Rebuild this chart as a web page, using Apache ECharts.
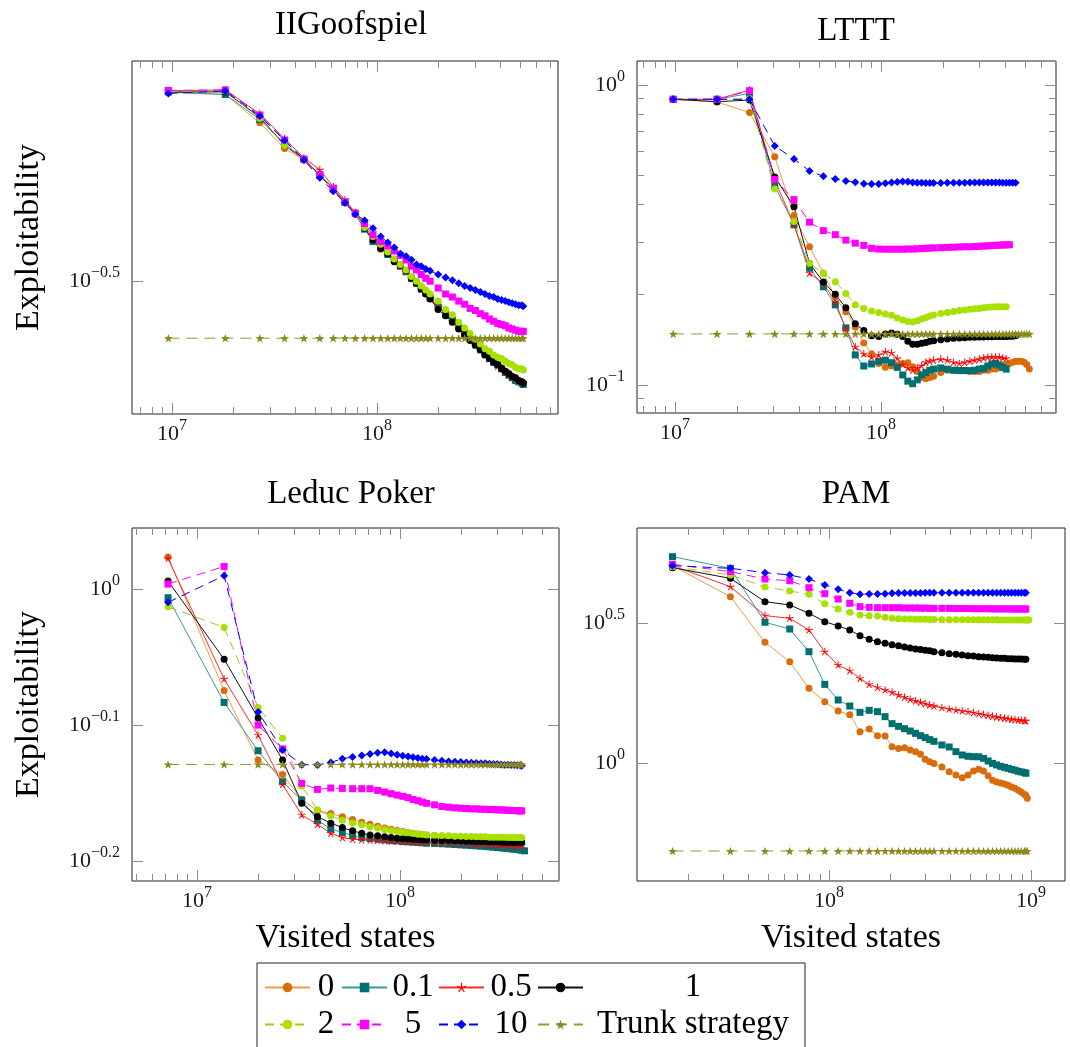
<!DOCTYPE html>
<html>
<head>
<meta charset="utf-8" />
<title>Exploitability vs visited states</title>
<script src="https://cdn.jsdelivr.net/npm/echarts@6.0.0/dist/echarts.min.js"></script>
<style>body{margin:0;background:#fff}#main{width:1070px;height:1047px}</style>
</head>
<body>
<div id="main"></div>
<script>
var FONT = 'Liberation Serif';

// ---- IIGoofspiel ----
var iigX = [9.6, 18.2, 26.8, 35.4, 44, 52.6, 61.2, 69.8, 78.4, 87, 95.6, 104.2, 112.8, 121.4, 130, 138.6, 147.2, 155.8, 164.4, 173, 181.6,
  198.8, 216, 233.2, 250.4, 267.6, 284.8, 302, 319.2, 336.4, 353.6, 370.8, 388, 405.2, 422.4, 439.6, 456.8, 474, 491.2, 508.4, 517];
var iig0 = [0.588, 0.584, 0.532, 0.489, 0.471, 0.448, 0.427, 0.410, 0.396, 0.378, 0.360, 0.351, 0.346, 0.339, 0.333, 0.327, 0.320, 0.315, 0.310, 0.305, 0.301,
  0.292, 0.286, 0.279, 0.273, 0.267, 0.262, 0.258, 0.253, 0.249, 0.246, 0.243, 0.240, 0.238, 0.235, 0.233, 0.231, 0.229, 0.228, 0.227, 0.226];
var iig01 = [0.589, 0.584, 0.538, 0.497, 0.472, 0.448, 0.429, 0.410, 0.395, 0.375, 0.360, 0.354, 0.345, 0.339, 0.332, 0.326, 0.319, 0.314, 0.308, 0.304, 0.299,
  0.290, 0.284, 0.278, 0.272, 0.266, 0.261, 0.257, 0.253, 0.249, 0.245, 0.242, 0.240, 0.237, 0.234, 0.232, 0.230, 0.228, 0.227, 0.226, 0.225];
var iig05 = [0.591, 0.593, 0.548, 0.505, 0.474, 0.456, 0.431, 0.413, 0.396, 0.380, 0.364, 0.354, 0.347, 0.339, 0.332, 0.326, 0.319, 0.314, 0.308, 0.304, 0.299,
  0.290, 0.284, 0.277, 0.271, 0.265, 0.261, 0.256, 0.252, 0.248, 0.245, 0.242, 0.239, 0.237, 0.234, 0.232, 0.231, 0.229, 0.228, 0.227, 0.226];
var iig1 = [0.589, 0.589, 0.542, 0.494, 0.472, 0.448, 0.427, 0.409, 0.394, 0.376, 0.362, 0.352, 0.346, 0.337, 0.333, 0.327, 0.319, 0.314, 0.308, 0.303, 0.298,
  0.288, 0.282, 0.276, 0.270, 0.265, 0.260, 0.256, 0.252, 0.248, 0.245, 0.242, 0.240, 0.237, 0.235, 0.233, 0.231, 0.230, 0.228, 0.227, 0.226];
var iig2 = [0.590, 0.591, 0.540, 0.494, 0.471, 0.448, 0.427, 0.410, 0.394, 0.377, 0.366, 0.357, 0.348, 0.340, 0.334, 0.328, 0.321, 0.316, 0.311, 0.307, 0.303,
  0.296, 0.288, 0.283, 0.276, 0.271, 0.266, 0.261, 0.257, 0.253, 0.251, 0.248, 0.246, 0.245, 0.243, 0.241, 0.240, 0.238, 0.237, 0.237, 0.236];
var iig5 = [0.592, 0.593, 0.546, 0.503, 0.472, 0.449, 0.429, 0.410, 0.395, 0.382, 0.368, 0.360, 0.355, 0.349, 0.344, 0.339, 0.332, 0.328, 0.323, 0.319, 0.316,
  0.309, 0.303, 0.300, 0.296, 0.293, 0.289, 0.287, 0.284, 0.282, 0.279, 0.277, 0.275, 0.274, 0.273, 0.271, 0.270, 0.269, 0.268, 0.268, 0.268];
var iig10 = [0.586, 0.591, 0.544, 0.502, 0.471, 0.444, 0.425, 0.409, 0.394, 0.386, 0.376, 0.366, 0.359, 0.353, 0.346, 0.343, 0.339, 0.334, 0.332, 0.329, 0.327,
  0.323, 0.320, 0.317, 0.314, 0.311, 0.309, 0.307, 0.305, 0.303, 0.301, 0.300, 0.298, 0.297, 0.296, 0.295, 0.294, 0.293, 0.292, 0.292, 0.291];
var iigTrunk = 0.262;

// ---- LTTT ----
var ltttX = [9.8, 16, 23, 30.5, 37.8, 45, 52.5, 60, 67.5, 75, 82.5, 90, 97.5, 105, 112.5, 120, 127.5, 135, 142.5, 150, 157.5, 165, 172.5, 180,
  195, 210, 225, 240, 255, 270, 285, 300, 315, 330, 345, 360, 375, 390, 405, 420, 435, 450, 465, 480, 495, 510, 525];
var lttt0 = [0.896, 0.878, 0.809, 0.577, 0.367, 0.289, 0.236, 0.196, 0.1755, 0.156, 0.138, 0.127, 0.118, 0.1145, 0.1157, 0.1166, 0.118, 0.1187, 0.115, 0.111, 0.106, 0.105, 0.106, 0.107,
  0.110, 0.112, 0.112, 0.112, 0.112, 0.111, 0.111, 0.111, 0.112, 0.112, 0.113, 0.113, 0.1145, 0.116, 0.117, 0.118, 0.119, 0.120, 0.120, 0.120, 0.119, 0.117, 0.113];
var lttt01 = [0.896, 0.896, 0.938, 0.461, 0.342, 0.245, 0.2125, 0.185, 0.155, 0.126, 0.1157, 0.1175, 0.120, 0.121, 0.1187, 0.1145, 0.108, 0.103, 0.101, 0.104, 0.108, 0.110, 0.112, 0.113,
  0.114, 0.113, 0.112, 0.1117, 0.1117, 0.1117, 0.112, 0.113, 0.1136, 0.1157, 0.1175, 0.118, 0.1166, 0.1145, 0.113];
var lttt05 = [0.896, 0.896, 0.962, 0.482, 0.343, 0.236, 0.218, 0.1896, 0.154, 0.134, 0.127, 0.1237, 0.126, 0.129, 0.128, 0.1226, 0.117, 0.114, 0.112, 0.114, 0.116, 0.119, 0.120, 0.121,
  0.122, 0.121, 0.119, 0.118, 0.119, 0.120, 0.121, 0.122, 0.123, 0.1237, 0.124, 0.124, 0.124, 0.123, 0.1226];
var lttt1 = [0.896, 0.880, 0.891, 0.494, 0.393, 0.254, 0.2205, 0.2005, 0.181, 0.160, 0.152, 0.146, 0.145, 0.148, 0.149, 0.1475, 0.145, 0.140, 0.1366, 0.1366, 0.1377, 0.1387, 0.1398, 0.1405,
  0.1416, 0.1423, 0.1431, 0.1435, 0.1438, 0.1442, 0.1442, 0.1445, 0.1445, 0.1449, 0.1449, 0.145, 0.145, 0.145, 0.145, 0.1455, 0.1455, 0.146];
var lttt2 = [0.896, 0.896, 0.900, 0.450, 0.351, 0.254, 0.236, 0.221, 0.202, 0.185, 0.180, 0.1765, 0.1746, 0.1724, 0.1708, 0.1672, 0.1647, 0.1627, 0.1623, 0.1639, 0.1661, 0.1678, 0.1698, 0.1712,
  0.173, 0.1743, 0.1757, 0.177, 0.1778, 0.1787, 0.1796, 0.180, 0.181, 0.1815, 0.182, 0.1824, 0.1824, 0.1824, 0.1824];
var lttt5 = [0.896, 0.896, 0.957, 0.485, 0.415, 0.349, 0.327, 0.317, 0.304, 0.297, 0.292, 0.2855, 0.284, 0.2835, 0.2835, 0.2835, 0.2835, 0.284, 0.284, 0.2845, 0.285, 0.2855, 0.286, 0.2865,
  0.287, 0.2875, 0.288, 0.2885, 0.289, 0.289, 0.2895, 0.290, 0.2905, 0.291, 0.2915, 0.292, 0.2925, 0.293, 0.293, 0.2935];
var lttt10 = [0.896, 0.896, 0.896, 0.626, 0.567, 0.517, 0.496, 0.486, 0.479, 0.474, 0.469, 0.468, 0.468, 0.470, 0.473, 0.475, 0.477, 0.476, 0.473, 0.472, 0.472, 0.471, 0.471, 0.471,
  0.471, 0.472, 0.472, 0.472, 0.472, 0.473, 0.473, 0.473, 0.473, 0.473, 0.473, 0.473, 0.473, 0.472, 0.472, 0.472, 0.472, 0.472];
var ltttTrunk = 0.148;

// ---- Leduc Poker ----
var leducX = [7.2, 13.6, 20, 26.4, 32.8, 39.2, 45.6, 52, 58.4, 64.8, 71.2, 77.6, 84, 90.4, 96.8, 103.2, 109.6, 116, 122.4, 128.8, 135.2,
  148, 160.8, 173.6, 186.4, 199.2, 212, 224.8, 237.6, 250.4, 263.2, 276, 288.8, 301.6, 314.4, 327.2, 340, 352.8, 365.6, 378.4, 391.2, 397.6, 410.4];
var leduc0 = [1.056, 0.842, 0.7486, 0.7306, 0.7006, 0.687, 0.6838, 0.680, 0.6769, 0.6738, 0.6715, 0.6692, 0.6673, 0.6658, 0.6643, 0.6633, 0.6621, 0.6614, 0.6606, 0.6599, 0.6595,
  0.6588, 0.658, 0.6577, 0.657, 0.6566, 0.6562, 0.6558, 0.6555, 0.6555, 0.655, 0.655, 0.6547, 0.6547, 0.6543, 0.6543, 0.6543, 0.654, 0.654, 0.654, 0.654, 0.654];
var leduc01 = [0.9854, 0.8253, 0.7605, 0.7216, 0.6995, 0.6761, 0.6662, 0.6621, 0.6588, 0.6565, 0.6555, 0.6547, 0.654, 0.6532, 0.6529, 0.6521, 0.6518, 0.6514, 0.651, 0.6507, 0.6503,
  0.65, 0.6496, 0.6492, 0.6488, 0.6484, 0.6481, 0.6477, 0.6474, 0.647, 0.6466, 0.6463, 0.6459, 0.6455, 0.6452, 0.6448, 0.6444, 0.6441, 0.6437, 0.6433, 0.643, 0.6426, 0.6419];
var leduc05 = [1.053, 0.8587, 0.7809, 0.7184, 0.6822, 0.6714, 0.6613, 0.6565, 0.6547, 0.654, 0.6536, 0.6532, 0.6529, 0.6525, 0.6521, 0.6518, 0.6518, 0.6514, 0.6514, 0.651, 0.651,
  0.6507, 0.6503, 0.6503, 0.65, 0.65, 0.6496, 0.6496, 0.6492, 0.6492, 0.6488, 0.6488, 0.6484, 0.6484, 0.6484, 0.6481, 0.6481, 0.6481, 0.6477, 0.6477, 0.6477, 0.6477];
var leduc1 = [1.0136, 0.888, 0.804, 0.7486, 0.6957, 0.6803, 0.6727, 0.6677, 0.664, 0.6613, 0.6595, 0.6584, 0.6573, 0.6565, 0.6558, 0.6555, 0.655, 0.6547, 0.6543, 0.654, 0.654,
  0.6536, 0.6532, 0.6532, 0.6529, 0.6529, 0.6525, 0.6525, 0.6521, 0.6521, 0.6521, 0.6518, 0.6518, 0.6518, 0.6514, 0.6514, 0.6514, 0.6514, 0.651, 0.651, 0.651, 0.651];
var leduc2 = [0.9705, 0.937, 0.8184, 0.7766, 0.7165, 0.6881, 0.6809, 0.6761, 0.6728, 0.6708, 0.6687, 0.6672, 0.6656, 0.6645, 0.6633, 0.6625, 0.6618, 0.661, 0.6603, 0.6599, 0.6595,
  0.6591, 0.6588, 0.6584, 0.658, 0.658, 0.6576, 0.6576, 0.6573, 0.6573, 0.6573, 0.6569, 0.6569, 0.6569, 0.6569, 0.6569, 0.6565, 0.6565, 0.6565, 0.6565, 0.6565, 0.6565];
var leduc5 = [1.0085, 1.039, 0.7943, 0.7628, 0.7196, 0.7123, 0.7139, 0.7135, 0.7131, 0.7131, 0.7131, 0.7111, 0.7091, 0.7071, 0.7055, 0.704, 0.7024, 0.7003, 0.6988, 0.6972, 0.6957,
  0.6939, 0.692, 0.6912, 0.6904, 0.690, 0.6896, 0.6892, 0.6892, 0.6888, 0.6888, 0.6884, 0.6884, 0.688, 0.688, 0.6877, 0.6877, 0.6873, 0.6873, 0.6869, 0.6869, 0.6869];
var leduc10 = [0.9777, 1.023, 0.812, 0.7614, 0.7428, 0.7423, 0.7456, 0.7503, 0.7524, 0.7545, 0.7562, 0.758, 0.7584, 0.7571, 0.7554, 0.7541, 0.7532, 0.752, 0.7511, 0.7503, 0.7499,
  0.7486, 0.7477, 0.7469, 0.7465, 0.7461, 0.7456, 0.7452, 0.7448, 0.7444, 0.7444, 0.744, 0.7435, 0.7435, 0.7431, 0.7427, 0.7427, 0.7423, 0.7423, 0.7419, 0.7419, 0.7414];
var leducTrunk = 0.743;

// ---- PAM ----
var pamX = [16.8, 32.5, 48.2, 63.9, 79.6, 95.3, 111, 126.7, 142.4, 158.1, 173.8, 189.5, 205.2, 220.9, 236.6, 252.3, 268, 283.7, 299.4, 315.1, 330.8,
  362.2, 393.6, 425, 456.4, 487.8, 519.2, 550.6, 582, 613.4, 644.8, 676.2, 707.6, 739, 770.4, 801.8, 833.2, 864.6, 896, 927.4, 943.1, 958.8, 974.5, 990.2];
var pam0 = [5.067, 3.927, 2.697, 2.301, 1.848, 1.656, 1.534, 1.488, 1.294, 1.322, 1.252, 1.249, 1.143, 1.126, 1.134, 1.113, 1.098, 1.074, 1.031, 1.011, 0.995,
  0.968, 0.931, 0.906, 0.886, 0.906, 0.936, 0.949, 0.936, 0.901, 0.867, 0.855, 0.848, 0.841, 0.832, 0.821, 0.812, 0.799, 0.786, 0.773, 0.765, 0.748];
var pam01 = [5.457, 4.957, 3.181, 3.010, 2.498, 1.909, 1.679, 1.598, 1.517, 1.542, 1.525, 1.464, 1.382, 1.352, 1.326, 1.301, 1.276, 1.252, 1.232, 1.212, 1.195,
  1.160, 1.141, 1.098, 1.068, 1.057, 1.053, 1.053, 1.039, 1.017, 0.997, 0.984, 0.973, 0.965, 0.957, 0.949, 0.942, 0.934, 0.929, 0.924, 0.919];
var pam05 = [5.067, 4.263, 3.360, 3.287, 2.986, 2.498, 2.239, 2.137, 2.006, 1.909, 1.862, 1.823, 1.789, 1.750, 1.716, 1.688, 1.665, 1.647, 1.629, 1.611, 1.598,
  1.576, 1.559, 1.546, 1.534, 1.525, 1.513, 1.500, 1.488, 1.479, 1.467, 1.459, 1.451, 1.444, 1.440, 1.432, 1.428, 1.424, 1.421, 1.417, 1.413];
var pam1 = [4.985, 4.565, 3.769, 3.667, 3.424, 3.198, 3.086, 2.986, 2.849, 2.764, 2.712, 2.675, 2.646, 2.625, 2.597, 2.576, 2.556, 2.542, 2.529, 2.515, 2.498,
  2.478, 2.458, 2.444, 2.431, 2.418, 2.411, 2.398, 2.391, 2.385, 2.378, 2.372, 2.365, 2.365, 2.358, 2.358, 2.352, 2.352, 2.352, 2.345, 2.345];
var pam2 = [5.025, 4.692, 4.252, 4.115, 4.003, 3.707, 3.547, 3.452, 3.378, 3.360, 3.351, 3.314, 3.287, 3.278, 3.269, 3.269, 3.260, 3.260, 3.260, 3.255, 3.255,
  3.251, 3.251, 3.251, 3.251, 3.251, 3.246, 3.246, 3.246, 3.246, 3.246, 3.246, 3.242, 3.242, 3.242, 3.242, 3.242, 3.242, 3.242, 3.242, 3.242, 3.242, 3.242];
var pam5 = [5.123, 4.825, 4.540, 4.478, 4.228, 4.025, 3.852, 3.718, 3.617, 3.597, 3.587, 3.587, 3.587, 3.587, 3.577, 3.577, 3.577, 3.572, 3.572, 3.567, 3.567,
  3.567, 3.567, 3.562, 3.562, 3.562, 3.557, 3.557, 3.557, 3.557, 3.552, 3.552, 3.552, 3.552, 3.552, 3.548, 3.548, 3.548, 3.548, 3.548, 3.548];
var pam10 = [5.067, 4.957, 4.785, 4.692, 4.540, 4.322, 4.170, 4.058, 4.003, 4.014, 4.014, 4.025, 4.036, 4.047, 4.047, 4.047, 4.047, 4.047, 4.052, 4.052, 4.052,
  4.052, 4.052, 4.052, 4.058, 4.058, 4.058, 4.058, 4.058, 4.058, 4.058, 4.058, 4.058, 4.058, 4.058, 4.058, 4.058, 4.058, 4.058, 4.058, 4.058];
var pamTrunk = 0.485;

var names = ['0', '0.1', '0.5', '1', '2', '5', '10', 'Trunk strategy'];

// pgfplots-like marks
var ASTER = 'path://M56,50L56,0L44,0L44,50ZM51.85,55.71L99.4,40.26L95.7,28.84L48.15,44.29ZM45.15,53.53L74.55,93.98L84.25,86.92L54.85,46.47ZM45.15,46.47L15.75,86.92L25.45,93.98L54.85,53.53ZM51.85,44.29L4.3,28.84L0.6,40.26L48.15,55.71Z';
var STAR = 'path://M50,0L61.76,33.82L97.55,34.55L69.02,56.18L79.39,90.45L50,70L20.61,90.45L30.98,56.18L2.45,34.55L38.24,33.82Z';

var look = {
  '0':   {mark: '#d96c0c', line: '#f29a45', symbol: 'circle', size: 7, dash: 'solid'},
  '0.1': {mark: '#006f6f', line: '#3a9a9a', symbol: 'rect', size: 7, dash: 'solid'},
  '0.5': {mark: '#ff0000', line: '#ff2a2a', symbol: ASTER, size: 8, dash: 'solid'},
  '1':   {mark: '#000000', line: '#111111', symbol: 'circle', size: 7, dash: 'solid'},
  '2':   {mark: '#a8e000', line: '#9ccc1c', symbol: 'circle', size: 7, dash: [9, 6]},
  '5':   {mark: '#ff00ff', line: '#ff00ff', symbol: 'rect', size: 7, dash: [9, 6]},
  '10':  {mark: '#0000ff', line: '#0000ff', symbol: 'diamond', size: 8, dash: [9, 6]},
  'Trunk strategy': {mark: '#8a8a1c', line: '#999933', symbol: STAR, size: 9, dash: [11, 7]}
};

var panels = [
  {title: 'IIGoofspiel', tx: 346, ty: 4, box: [132, 61, 558, 414], xr: [6.8049, 8.8829], yr: [-0.69, -0.1857],
   xMajor: [7, 8], yMajor: [-0.5], yMinor: false, yName: 'Exploitability', xName: '',
   curves: [iig0, iig01, iig05, iig1, iig2, iig5, iig10], xs: iigX, trunk: iigTrunk},
  {title: 'LTTT', tx: 851, ty: 10, box: [637, 61, 1056, 413], xr: [6.8155, 8.8495], yr: [-1.0933, 0.08],
   xMajor: [7, 8], yMajor: [-1, 0], yMinor: true, yName: '', xName: '',
   curves: [lttt0, lttt01, lttt05, lttt1, lttt2, lttt5, lttt10], xs: ltttX, trunk: ltttTrunk},
  {title: 'Leduc Poker', tx: 346, ty: 473, box: [132, 528, 559, 881], xr: [6.6798, 8.7833], yr: [-0.2147, 0.0449],
   xMajor: [7, 8], yMajor: [-0.2, -0.1, 0], yMinor: false, yName: 'Exploitability', xName: 'Visited states',
   curves: [leduc0, leduc01, leduc05, leduc1, leduc2, leduc5, leduc10], xs: leducX, trunk: leducTrunk},
  {title: 'PAM', tx: 851, ty: 473, box: [637, 528, 1065, 881], xr: [7.0495, 9.1683], yr: [-0.4214, 0.8393],
   xMajor: [8, 9], yMajor: [0, 0.5], yMinor: false, yName: '', xName: 'Visited states',
   curves: [pam0, pam01, pam05, pam1, pam2, pam5, pam10], xs: pamX, trunk: pamTrunk}
];

function minorTicks(lo, hi) {
  var out = [];
  for (var n = Math.floor(lo); n <= Math.ceil(hi); n++) {
    for (var k = 2; k <= 9; k++) {
      var v = n + Math.log10(k);
      if (v > lo && v < hi) out.push(v);
    }
  }
  return out;
}

function expText(v) {
  var r = Math.round(v * 10) / 10;
  return (r < 0 ? '\u2212' : '') + Math.abs(r);
}

var tickRich = {
  b: {fontFamily: FONT, fontSize: 22, lineHeight: 32, color: '#1a1a1a'},
  s: {fontFamily: FONT, fontSize: 16, verticalAlign: 'top', color: '#1a1a1a'}
};

var grids = [], xAxes = [], yAxes = [], series = [], titles = [];

function axis(dim, gi, pos, range, vals, len, labelled) {
  var a = {
    type: 'value', gridIndex: gi, position: pos, min: range[0], max: range[1],
    axisLine: {show: false, onZero: false}, splitLine: {show: false}, splitArea: {show: false},
    axisTick: {show: true, inside: true, length: len, customValues: vals, lineStyle: {color: '#8c8c8c', width: 1}},
    axisLabel: {show: false}
  };
  if (labelled) {
    a.axisLabel = {
      show: true, customValues: vals, margin: dim === 'x' ? 4 : 12,
      fontFamily: FONT, fontSize: 22, color: '#1a1a1a',
      formatter: function (v) { return '{b|10}{s|' + expText(v) + '}'; },
      rich: tickRich
    };
  }
  return a;
}

panels.forEach(function (p, gi) {
  grids.push({
    left: p.box[0], top: p.box[1], width: p.box[2] - p.box[0], height: p.box[3] - p.box[1],
    show: true, borderColor: '#222', borderWidth: 1, backgroundColor: 'transparent',
    containLabel: false, outerBoundsMode: 'none'
  });
  titles.push({
    text: p.title, left: p.tx, top: p.ty, textAlign: 'center',
    textStyle: {fontFamily: FONT, fontSize: 33, fontWeight: 'normal', color: '#000'}
  });

  var xMinor = minorTicks(p.xr[0], p.xr[1]);
  var xi = xAxes.length;
  var xMain = axis('x', gi, 'bottom', p.xr, p.xMajor, 11, true);
  if (p.xName) {
    xMain.name = p.xName;
    xMain.nameLocation = 'middle';
    xMain.nameGap = 40;
    xMain.nameTextStyle = {fontFamily: FONT, fontSize: 34, color: '#000'};
  }
  xAxes.push(xMain);
  xAxes.push(axis('x', gi, 'bottom', p.xr, xMinor, 7, false));
  xAxes.push(axis('x', gi, 'top', p.xr, p.xMajor, 11, false));
  xAxes.push(axis('x', gi, 'top', p.xr, xMinor, 7, false));

  var yi = yAxes.length;
  var yMain = axis('y', gi, 'left', p.yr, p.yMajor, 11, true);
  if (p.yName) {
    yMain.name = p.yName;
    yMain.nameLocation = 'middle';
    yMain.nameRotate = 90;
    yMain.nameGap = 86;
    yMain.nameTextStyle = {fontFamily: FONT, fontSize: 34, color: '#000'};
  }
  yAxes.push(yMain);
  yAxes.push(axis('y', gi, 'right', p.yr, p.yMajor, 11, false));
  if (p.yMinor) {
    var yMinor = minorTicks(p.yr[0], p.yr[1]);
    yAxes.push(axis('y', gi, 'left', p.yr, yMinor, 7, false));
    yAxes.push(axis('y', gi, 'right', p.yr, yMinor, 7, false));
  }

  function lineSeries(name, data) {
    var s = look[name];
    return {
      name: name, type: 'line', xAxisIndex: xi, yAxisIndex: yi, data: data,
      symbol: s.symbol, symbolSize: s.size, symbolKeepAspect: true, showAllSymbol: true,
      itemStyle: {color: s.mark}, lineStyle: {color: s.line, width: 1, type: s.dash},
      emphasis: {disabled: true}, silent: true, animation: false
    };
  }

  p.curves.forEach(function (ys, ci) {
    var data = ys.map(function (v, i) { return [Math.log10(p.xs[i] * 1e6), Math.log10(v)]; });
    series.push(lineSeries(names[ci], data));
  });
  // trunk strategy: one constant level, shown at the same checkpoints
  var trunkData = p.xs.slice(0, p.curves[0].length).map(function (x) { return [Math.log10(x * 1e6), Math.log10(p.trunk)]; });
  series.push(lineSeries('Trunk strategy', trunkData));
});

var legendCol = {'0': 'c1', '2': 'c1', '0.1': 'c2', '5': 'c2', '0.5': 'c3', '10': 'c3', '1': 'c4', 'Trunk strategy': 'c4'};
function colStyle(w) { return {width: w, align: 'center', fontFamily: FONT, fontSize: 33, lineHeight: 34, color: '#000'}; }

var chart = echarts.init(document.getElementById('main'), null, {renderer: 'canvas'});
chart.setOption({
  backgroundColor: '#fff',
  animation: false,
  title: titles,
  grid: grids,
  xAxis: xAxes,
  yAxis: yAxes,
  series: series,
  legend: {
    data: names, left: 257, top: 963, width: 550, orient: 'horizontal',
    padding: [8, 7, 7, 7], itemGap: 4, itemWidth: 45, itemHeight: 12,
    borderColor: '#222', borderWidth: 1, backgroundColor: '#fff', borderRadius: 0,
    selectedMode: false,
    formatter: function (n) { return '{' + legendCol[n] + '|' + n + '}'; },
    textStyle: {fontFamily: FONT, fontSize: 33, color: '#000',
      rich: {c1: colStyle(22), c2: colStyle(42), c3: colStyle(44), c4: colStyle(210)}}
  }
});
</script>
</body>
</html>
